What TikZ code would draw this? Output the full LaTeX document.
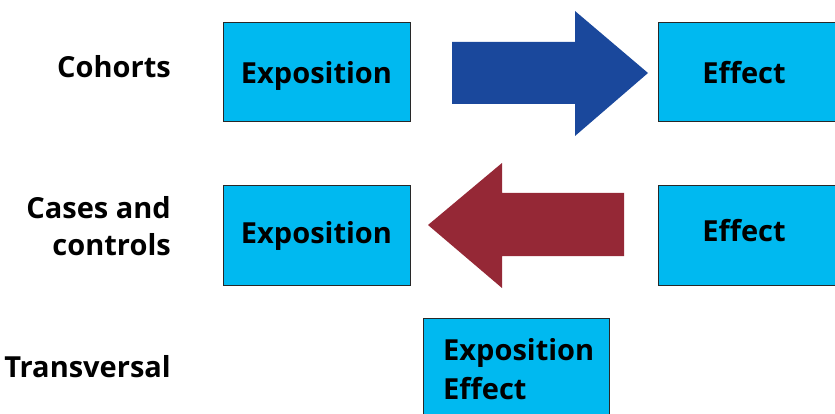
\documentclass[tikz,border=0pt]{standalone}
\usepackage{fontspec}
\setmainfont{Open Sans}
\definecolor{boxblue}{RGB}{0,185,240}
\definecolor{arrblue}{RGB}{26,72,156}
\definecolor{arrred}{RGB}{149,40,54}
\definecolor{boxline}{RGB}{40,40,40}
\begin{document}
\begin{tikzpicture}[x=1pt,y=-1pt,
  box/.style={draw=boxline,line width=0.9pt,fill=boxblue},
  lbl/.style={font=\fontsize{29}{37}\selectfont\bfseries,inner sep=0pt},
  rowlbl/.style={lbl,anchor=east,align=right}]
\useasboundingbox (0,0) rectangle (835,414);
% row 1
\draw[box] (223,22) rectangle (410,121);
\draw[box] (658,22) rectangle (840,121);
\node[lbl] (exp1) at (316.5,76) {Exposition};
\node[lbl] (eff1) at (744,73) {Effect};
\node[rowlbl] (coh) at (171,67) {Cohorts};
\fill[arrblue] (452,42) -- (575,42) -- (575,11) -- (648,73) -- (575,136) -- (575,104) -- (452,104) -- cycle;
% row 2
\draw[box] (223,185) rectangle (410,285);
\draw[box] (658,185) rectangle (840,285);
\node[lbl] (exp2) at (316.5,236) {Exposition};
\node[lbl] (eff2) at (744,231) {Effect};
\node[rowlbl] (cc) at (171,226) {Cases and\\controls};
\fill[arrred] (624,193) -- (502,193) -- (502,163) -- (428,225) -- (502,288) -- (502,256) -- (624,256) -- cycle;
% row 3
\draw[box] (423,318) rectangle (609,420);
\node[lbl,anchor=west,align=left,font=\fontsize{29}{39}\selectfont\bfseries] (both) at (443,369) {Exposition\\Effect};
\node[rowlbl] (tr) at (171,367) {Transversal};
\end{tikzpicture}
\end{document}
